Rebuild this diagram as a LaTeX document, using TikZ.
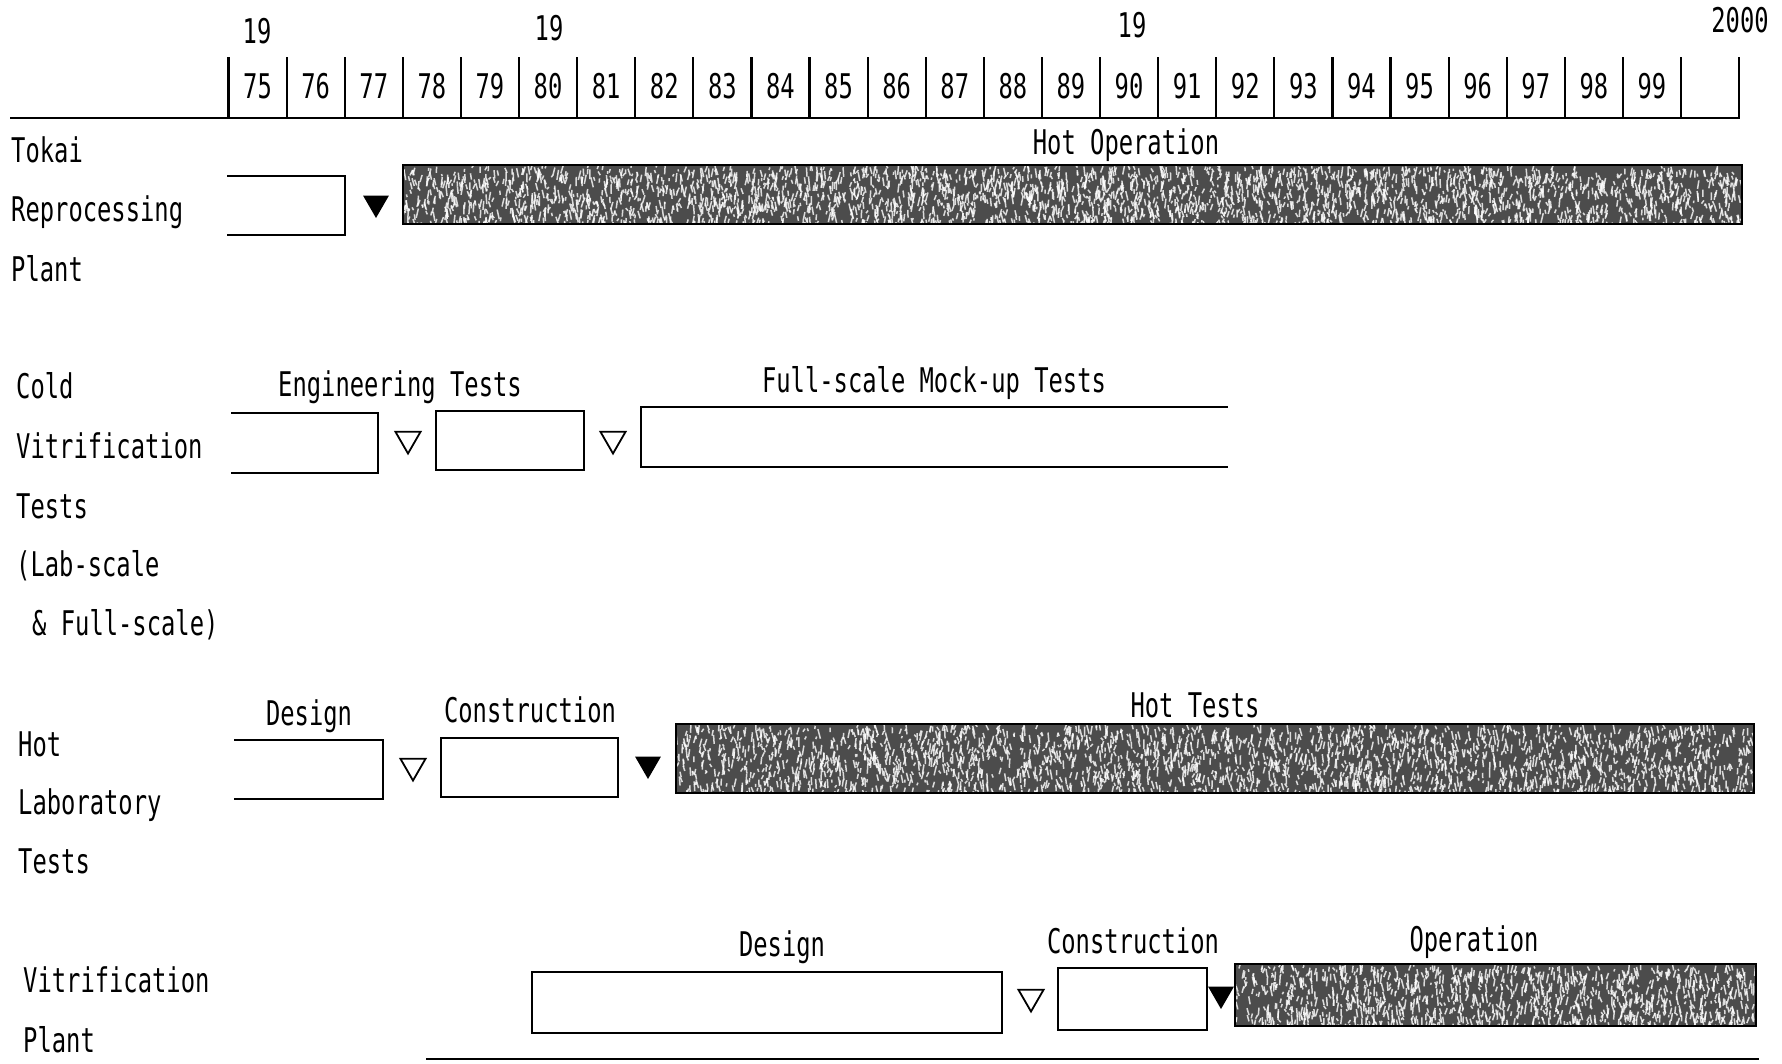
\documentclass[tikz,border=0pt]{standalone}
\usepackage{fontspec}
\setmainfont{DejaVu Sans Mono}[FakeStretch=0.7]
\usetikzlibrary{shapes.geometric}
\tikzset{
  x=1pt, y=-1pt,
  lbl/.style={inner sep=0pt, font=\fontsize{34}{40}\selectfont, text height=24pt, text depth=0pt},
  lft/.style={lbl, anchor=west},
  ln/.style={line width=2.6pt, line cap=rect},
  tickln/.style={line width=2.2pt},
  opentri/.style={regular polygon, regular polygon sides=3, shape border rotate=180, draw, line width=1.8pt, inner sep=0pt, minimum size=29pt},
  filltri/.style={regular polygon, regular polygon sides=3, shape border rotate=180, draw, fill=black, line width=1.5pt, inner sep=0pt, minimum size=27pt}
}
\newcommand\MakeBar[5]{% name, x1, y1, x2, y2
  \node[rectangle, inner sep=0pt] (#1) at ({(#2+#4)/2},{(#3+#5)/2}) {};
  \fill[black!70] (#2,#3) rectangle (#4,#5);
  \begin{scope}
    \clip (#2,#3) rectangle (#4,#5);
    \pgfmathtruncatemacro\nspk{(#4-#2)*2.2}
    \foreach \k in {1,...,\nspk}{
      \pgfmathsetmacro\sx{#2+rnd*(#4-#2)}
      \pgfmathsetmacro\sy{#3+rnd*(#5-#3)}
      \pgfmathsetmacro\sl{2+rnd*8}
      \pgfmathsetmacro\sd{rnd*5-2.5}
      \draw[white, line width=1.5pt, opacity=0.8] (\sx,\sy) -- ++(\sd,\sl);
    }
  \end{scope}
  \draw[black, line width=2.4pt] (#2,#3) rectangle (#4,#5);
}
\begin{document}
\begin{tikzpicture}
\pgfmathsetseed{7}
\useasboundingbox (0,0) rectangle (1782,1063);

% ---------- header ----------
\foreach \i in {0,...,26}{
  \draw[tickln] ({228.5+58.1*\i},57) -- ({228.5+58.1*\i},118);
}
\foreach \i in {0,...,24}{
  \pgfmathtruncatemacro\yr{75+\i}
  \node[lbl] (y\yr) at ({228.5+58.1*(\i+0.5)},86) {\yr};
}
\draw[ln] (11,118) -- (1739,118);
\node[lbl] (c19a) at (257,31) {19};
\node[lbl] (c19b) at (549,28) {19};
\node[lbl] (c19c) at (1132,25) {19};
\node[lbl] (c2000) at (1740,20) {2000};

% ---------- Tokai Reprocessing Plant ----------
\node[lft] (l1a) at (11,150) {Tokai};
\node[lft] (l1b) at (11,209) {Reprocessing};
\node[lft] (l1c) at (11,269) {Plant};
\draw[ln] (228,176) -- (345,176) -- (345,235) -- (228,235);
\node[filltri] (t1) at (376,203) {};
\MakeBar{bar1}{403}{165}{1742}{224}
\node[lbl] (hotop) at (1126,142) {Hot Operation};

% ---------- Cold Vitrification Tests ----------
\node[lft] (l2a) at (16,386) {Cold};
\node[lft] (l2b) at (16,446) {Vitrification};
\node[lft] (l2c) at (16,506) {Tests};
\node[lft] (l2d) at (16,564) {(Lab-scale};
\node[lft] (l2e) at (32,623) {\& Full-scale)};
\draw[ln] (232,413) -- (378,413) -- (378,473) -- (232,473);
\node[opentri] (t2a) at (408,439) {};
\draw[ln] (436,411) rectangle (584,470);
\node[opentri] (t2b) at (613,439) {};
\draw[ln] (1227,407) -- (641,407) -- (641,467) -- (1227,467);
\node[lbl] (engt) at (400,384) {Engineering Tests};
\node[lbl] (fsmt) at (934,380) {Full-scale Mock-up Tests};

% ---------- Hot Laboratory Tests ----------
\node[lft] (l3a) at (18,744) {Hot};
\node[lft] (l3b) at (18,802) {Laboratory};
\node[lft] (l3c) at (18,861) {Tests};
\draw[ln] (235,740) -- (383,740) -- (383,799) -- (235,799);
\node[opentri] (t3a) at (413,766) {};
\draw[ln] (441,738) rectangle (618,797);
\node[filltri] (t3b) at (648,764) {};
\MakeBar{bar3}{676}{724}{1754}{793}
\node[lbl] (des3) at (309,713) {Design};
\node[lbl] (con3) at (530,710) {Construction};
\node[lbl] (hott) at (1195,705) {Hot Tests};

% ---------- Vitrification Plant ----------
\node[lft] (l4a) at (23,980) {Vitrification};
\node[lft] (l4b) at (23,1040) {Plant};
\draw[ln] (532,972) rectangle (1002,1033);
\node[opentri] (t4a) at (1031,997) {};
\draw[ln] (1058,968) rectangle (1207,1030);
\node[filltri] (t4b) at (1221,994) {};
\MakeBar{bar4}{1235}{964}{1756}{1026}
\node[lbl] (des4) at (782,944) {Design};
\node[lbl] (con4) at (1133,941) {Construction};
\node[lbl] (oper) at (1474,939) {Operation};
\draw[ln] (427,1059) -- (1758,1059);
\end{tikzpicture}
\end{document}
